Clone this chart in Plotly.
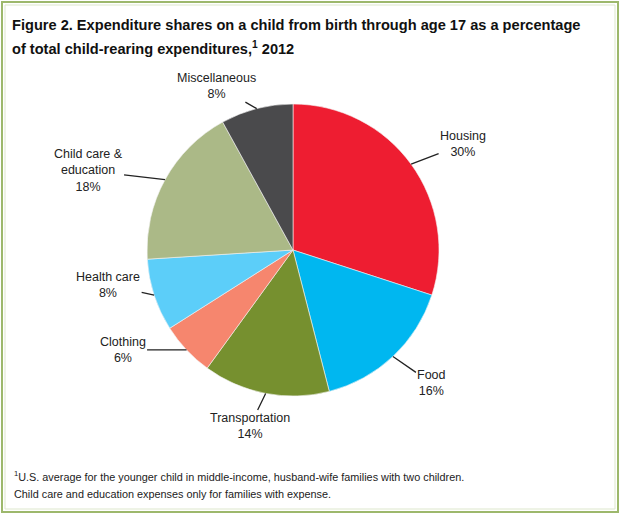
import math
import plotly.graph_objects as go

# data
categories = ["Housing", "Food", "Transportation", "Clothing",
              "Health care", "Child care &<br>education", "Miscellaneous"]
shares = [30, 16, 14, 6, 8, 18, 8]
colors = ["#EE1D31", "#00B7F0", "#76902F", "#F6866E", "#5CCEF9", "#ABB987", "#4A4A4C"]

# label offsets (pixels, text centre relative to the slice edge point)
label_ax = [52, 39, -16, -64, -46, -77, -40]
label_ay = [-20, 27, 33, 0, -10, -9, -23]

W, H = 621, 516
cx, cy, r = 293, 250, 146   # pie centre / radius in px
FONT = "Liberation Sans, Arial"

fig = go.Figure(go.Pie(
    labels=categories,
    values=shares,
    sort=False,
    direction="clockwise",
    rotation=0,
    textinfo="none",
    hoverinfo="label+percent",
    marker=dict(colors=colors, line=dict(color="#f4f4f4", width=0.6)),
    domain=dict(x=[(cx - r) / W, (cx + r) / W], y=[1 - (cy + r) / H, 1 - (cy - r) / H]),
    showlegend=False,
))

# leader-line labels, anchored at each slice's mid angle on the rim
total = sum(shares)
cum = 0
for name, v, ax, ay in zip(categories, shares, label_ax, label_ay):
    mid = (cum + v / 2) / total * 2 * math.pi
    cum += v
    px_ = cx + r * math.sin(mid)
    py_ = cy - r * math.cos(mid)
    fig.add_annotation(
        x=px_ / W, y=1 - py_ / H, xref="paper", yref="paper",
        text=f"{name}<br>{round(v / total * 100)}%",
        showarrow=True, arrowhead=0, arrowwidth=1.3, arrowcolor="#222",
        ax=ax, ay=ay, standoff=0,
        font=dict(family=FONT, size=12.5, color="#222"),
        align="center",
    )

title_lines = ["<b>Figure 2. Expenditure shares on a child from birth through age 17 as a percentage</b>",
               "<b>of total child-rearing expenditures,<sup>1</sup> 2012</b>"]
for txt, ypx in zip(title_lines, [25, 48]):
    fig.add_annotation(
        x=10 / W, y=1 - ypx / H, xref="paper", yref="paper",
        xanchor="left", yanchor="middle", align="left", showarrow=False,
        text=txt, font=dict(family=FONT, size=14.6, color="#111"),
    )

note_lines = ["<sup>1</sup>U.S. average for the younger child in middle-income, husband-wife families with two children.",
              "Child care and education expenses only for families with expense."]
for txt, ypx in zip(note_lines, [476, 494]):
    fig.add_annotation(
        x=12 / W, y=1 - ypx / H, xref="paper", yref="paper",
        xanchor="left", yanchor="middle", align="left", showarrow=False,
        text=txt, font=dict(family=FONT, size=10.85, color="#222"),
    )

# green frame
fig.add_shape(type="rect", xref="paper", yref="paper",
              x0=2 / W, x1=1 - 3 / W, y0=4 / H, y1=1 - 2 / H,
              line=dict(color="#9DB86C", width=2))
fig.add_shape(type="rect", xref="paper", yref="paper",
              x0=5 / W, x1=1 - 6 / W, y0=7 / H, y1=1 - 5 / H,
              line=dict(color="#DDE7CC", width=1))

fig.update_layout(
    width=W, height=H,
    margin=dict(l=0, r=0, t=0, b=0),
    paper_bgcolor="white",
    plot_bgcolor="white",
)

fig.write_html("out.html", config={"displayModeBar": False},
               post_script="document.body.style.margin='0';")
